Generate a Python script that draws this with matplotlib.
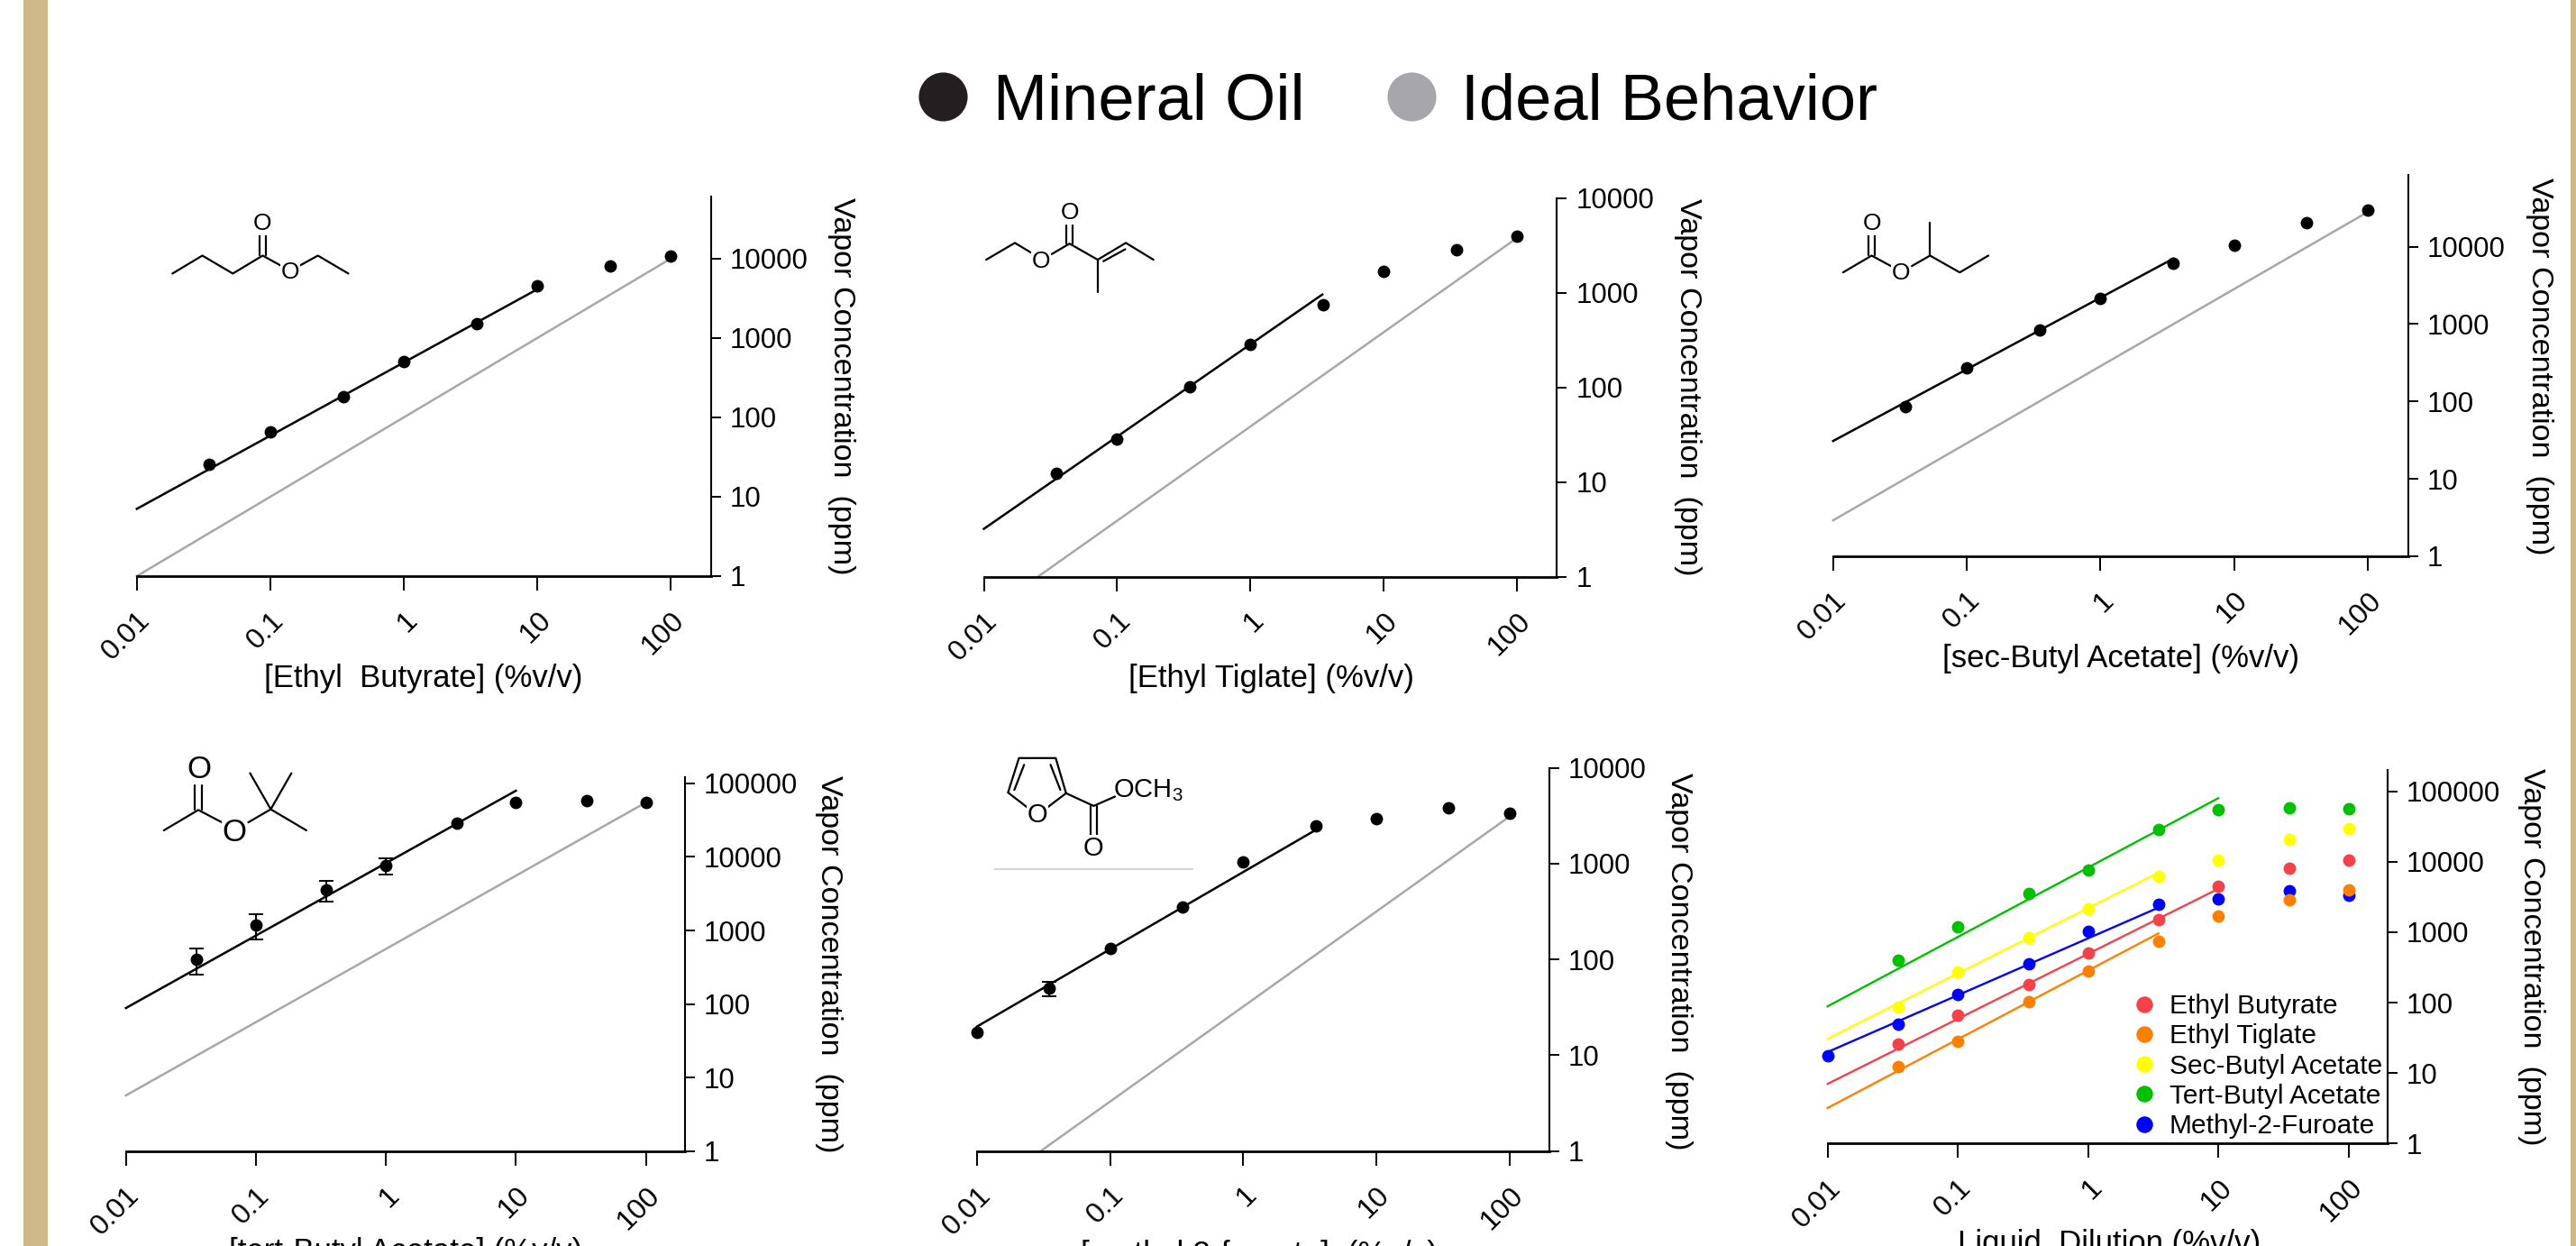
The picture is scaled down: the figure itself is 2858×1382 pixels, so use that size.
import matplotlib
matplotlib.use("Agg")
from matplotlib import pyplot as plt
from matplotlib.lines import Line2D
from matplotlib.patches import Rectangle

plt.rcParams["font.family"] = ["Liberation Sans", "DejaVu Sans"]
plt.rcParams["mathtext.default"] = "regular"

W, H = 2858, 1382

dilution = [0.01, 0.035, 0.1, 0.35, 1, 3.5, 10, 35, 100]
x_ticks = [0.01, 0.1, 1, 10, 100]
x_tick_labels = ["0.01", "0.1", "1", "10", "100"]

# vapor concentration, None where no point was measured
ethyl_butyrate = [None, 25.8, 65.5, 181, 508, 1518, 4486, 7965, 10670]
ethyl_tiglate = [None, 12.4, 28.4, 102, 283, 750, 1683, 2852, 3955]
sec_butyl = [None, 85.6, 272, 837, 2155, 6130, 10570, 20600, 29700]
tert_butyl = [None, 405, 1202, 3573, 7602, 28400, 55000, 58000, 55600]
methyl_furoate = [17.5, 49.9, 130, 352, 1035, 2488, 2965, 3811, 3319]

# error bars (low, high)
tert_low = [None, 252, 759, 2451, 5790, None, None, None, None]
tert_high = [None, 566, 1647, 4693, 9570, None, None, None, None]
furoate_low = [None, 41.1, None, None, None, None, None, None, None]
furoate_high = [None, 58.6, None, None, None, None, None, None, None]

# fit lines: end points
butyrate_fit_x, butyrate_fit_y = [0.01, 10], [7.03, 4111]
tiglate_fit_x, tiglate_fit_y = [0.01, 3.47], [3.2, 958]
sec_fit_x, sec_fit_y = [0.01, 3.5], [30.8, 7000]
tert_fit_x, tert_fit_y = [0.01, 10], [88.6, 79400]
furoate_fit_x, furoate_fit_y = [0.01, 3.5], [19.9, 2240]

# ideal behaviour lines
butyrate_ideal_x, butyrate_ideal_y = [0.01, 100], [1, 10000]
tiglate_ideal_x, tiglate_ideal_y = [0.0255, 100], [1, 3780]
sec_ideal_x, sec_ideal_y = [0.01, 100], [2.9, 28100]
tert_ideal_x, tert_ideal_y = [0.01, 100], [5.75, 55000]
furoate_ideal_x, furoate_ideal_y = [0.0302, 100], [1, 3090]

small_ticks = [1, 10, 100, 1000, 10000]
big_ticks = [1, 10, 100, 1000, 10000, 100000]

BLACK = "#000000"
GRAY = "#a8a8a8"
GOLD = "#cfb988"


def points(values):
    xs = [x for x, v in zip(dilution, values) if v is not None]
    ys = [v for v in values if v is not None]
    return xs, ys


fig = plt.figure(figsize=(W / 100, H / 100), dpi=100)

# pixel overlay for the frame and the molecule sketches
bg = fig.add_axes([0, 0, 1, 1])
bg.set_xlim(0, W)
bg.set_ylim(H, 0)
bg.axis("off")
bg.add_patch(Rectangle((26, 0), 27, H, color=GOLD, lw=0))
bg.add_patch(Rectangle((2852, 0), 6, H, color=GOLD, lw=0))


def make_axes(left, right, y_one, y_top, ymax, yticks, xlabel, xlabel_pos, ylabel_pos):
    ax = fig.add_axes([left / W, 1 - y_one / H, (right - left) / W, (y_one - y_top) / H])
    ax.patch.set_visible(False)
    ax.set_xscale("log")
    ax.set_yscale("log")
    ax.set_xlim(0.01, 200)
    ax.set_ylim(1, ymax)
    ax.spines["left"].set_visible(False)
    ax.spines["top"].set_visible(False)
    ax.spines["right"].set_linewidth(1.5)
    ax.spines["bottom"].set_linewidth(2)
    ax.yaxis.tick_right()
    ax.set_xticks(x_ticks)
    ax.set_xticklabels(x_tick_labels, rotation=45, ha="right", va="top", rotation_mode="anchor", fontsize=23)
    ax.set_yticks(yticks)
    ax.set_yticklabels([str(t) for t in yticks], fontsize=22.5)
    ax.minorticks_off()
    ax.tick_params(axis="x", length=11.5, width=1.4, pad=13)
    ax.tick_params(axis="y", length=8, width=1.4, pad=7)
    ax.set_xlabel(xlabel, fontsize=25)
    ax.xaxis.set_label_coords(xlabel_pos[0], xlabel_pos[1], transform=bg.transData)
    ax.yaxis.set_label_position("right")
    ax.set_ylabel("Vapor Concentration  (ppm)", fontsize=24.6, rotation=270, va="center", ha="center")
    ax.yaxis.set_label_coords(ylabel_pos[0], ylabel_pos[1], transform=bg.transData)
    return ax


def single_panel(ax, values, fit_x, fit_y, ideal_x, ideal_y, low=None, high=None):
    ax.plot(ideal_x, ideal_y, color=GRAY, lw=1.8, clip_on=False, zorder=2)
    ax.plot(fit_x, fit_y, color=BLACK, lw=1.8, clip_on=False, zorder=3)
    if low is not None:
        xs, ys = [], []
        lo, hi = [], []
        for x, v, l, h in zip(dilution, values, low, high):
            if l is not None:
                xs.append(x)
                ys.append(v)
                lo.append(v - l)
                hi.append(h - v)
        ax.errorbar(xs, ys, yerr=[lo, hi], fmt="none", ecolor=BLACK, elinewidth=1.4, capsize=5.5, capthick=1.4, zorder=3)
    xs, ys = points(values)
    ax.plot(xs, ys, "o", color=BLACK, ms=10, mew=0, clip_on=False, zorder=4)


ax1 = make_axes(151.8, 789, 639, 217.6, 61000, small_ticks, "[Ethyl  Butyrate] (%v/v)", (470, 736), (934, 428))
single_panel(ax1, ethyl_butyrate, butyrate_fit_x, butyrate_fit_y, butyrate_ideal_x, butyrate_ideal_y)

ax2 = make_axes(1091.6, 1727.4, 639.6, 219.7, 10000, small_ticks, "[Ethyl Tiglate] (%v/v)", (1410, 736), (1873, 429))
single_panel(ax2, ethyl_tiglate, tiglate_fit_x, tiglate_fit_y, tiglate_ideal_x, tiglate_ideal_y)

ax3 = make_axes(2033.8, 2671.5, 616.8, 194.4, 84000, small_ticks, "[sec-Butyl Acetate] (%v/v)", (2353, 714), (2818, 406))
single_panel(ax3, sec_butyl, sec_fit_x, sec_fit_y, sec_ideal_x, sec_ideal_y)

ax4 = make_axes(139.7, 760, 1277, 862.4, 120000, big_ticks, "[tert-Butyl Acetate] (%v/v)", (450, 1372), (920, 1069))
single_panel(ax4, tert_butyl, tert_fit_x, tert_fit_y, tert_ideal_x, tert_ideal_y, tert_low, tert_high)

ax5 = make_axes(1083.9, 1719, 1276.6, 851.6, 10000, small_ticks, "[methyl 2-furoate]  (%v/v)", (1397, 1375), (1863, 1066))
ax5.xaxis.label.set_fontsize(25.5)
single_panel(ax5, methyl_furoate, furoate_fit_x, furoate_fit_y, furoate_ideal_x, furoate_ideal_y, furoate_low, furoate_high)

ax6 = make_axes(2027.7, 2649, 1268.4, 854, 200000, big_ticks, "Liquid  Dilution (%v/v)", (2340, 1363), (2809, 1061))
overlay = [
    ("Ethyl Butyrate", ethyl_butyrate, butyrate_fit_x, butyrate_fit_y, "#f5424a"),
    ("Ethyl Tiglate", ethyl_tiglate, tiglate_fit_x, tiglate_fit_y, "#ff8000"),
    ("Sec-Butyl Acetate", sec_butyl, sec_fit_x, sec_fit_y, "#ffff00"),
    ("Tert-Butyl Acetate", tert_butyl, tert_fit_x, tert_fit_y, "#00c000"),
    ("Methyl-2-Furoate", methyl_furoate, furoate_fit_x, furoate_fit_y, "#0000ff"),
]
handles = []
for name, values, fit_x, fit_y, color in overlay:
    ax6.plot(fit_x, fit_y, color=color, lw=1.7, clip_on=False, zorder=2)
for name, values, fit_x, fit_y, color in overlay[::-1]:
    xs, ys = points(values)
    ax6.plot(xs, ys, "o", color=color, ms=10, mew=0, clip_on=False, zorder=3)
for name, values, fit_x, fit_y, color in overlay:
    handles.append(Line2D([], [], ls="none", marker="o", color=color, ms=13.3, mew=0, label=name))
ax6.legend(handles=handles, loc="lower left", bbox_to_anchor=(2360, 1263), bbox_transform=bg.transData,
           frameon=False, fontsize=21.5, labelspacing=0.174, handletextpad=0.27, handlelength=1.3,
           borderpad=0, borderaxespad=0)

top_handles = [
    Line2D([], [], ls="none", marker="o", color="#231f20", ms=39, mew=0, label="Mineral Oil"),
    Line2D([], [], ls="none", marker="o", color="#a7a6ab", ms=39, mew=0, label="Ideal Behavior"),
]
fig.legend(handles=top_handles, ncol=2, loc="center left", bbox_to_anchor=(1010 / W, 1 - 114 / H),
           frameon=False, fontsize=52, handletextpad=0.27, columnspacing=1.14, handlelength=1,
           borderpad=0, borderaxespad=0)


# molecule sketches, given in the coordinates they were measured in
def sketch(bonds, atoms, ox, oy, sx, sy, lw=1.6, size=19):
    for bond in bonds:
        bg.plot([ox + p[0] / sx for p in bond], [oy + p[1] / sy for p in bond], color=BLACK, lw=lw, solid_capstyle="round")
    for x, y, label in atoms:
        bg.text(ox + x / sx, oy + y / sy, label, fontsize=size, ha="center", va="center",
                bbox=dict(fc="white", ec="none", pad=0.5) if label == "O" else None)


sketch([[(300, 370), (352, 322), (405, 370), (457, 322), (490, 350)], [(520, 350), (553, 322), (606, 370)],
        [(452, 322), (452, 265)], [(462, 322), (462, 265)]],
       [(457, 237, "O"), (505, 367, "O")], 0, 150, 1.568, 2.412)
sketch([[(226, 333), (276, 288), (305, 315)], [(340, 318), (371, 290), (420, 333), (469, 288), (517, 333)],
        [(366, 290), (366, 240)], [(376, 290), (376, 240)], [(430, 337), (468, 305)], [(420, 333), (420, 420)]],
       [(371, 207, "O"), (322, 337, "O")], 950, 150, 1.568, 2.412)
sketch([[(237, 367), (289, 322), (324, 350)], [(362, 350), (395, 322), (449, 367), (501, 322)],
        [(395, 322), (395, 233)], [(284, 322), (284, 262)], [(294, 322), (294, 262)]],
       [(289, 236, "O"), (342, 370, "O")], 1900, 150, 1.637, 2.412)
sketch([[(285, 326), (345, 265), (386, 302)], [(432, 302), (471, 263), (533, 326)], [(435, 155), (471, 263), (507, 155)],
        [(339, 265), (339, 190)], [(352, 265), (352, 190)]],
       [(346, 143, "O"), (408, 332, "O")], 0, 800, 1.568, 2.694, size=25)
sketch([[(298, 258), (264, 213), (283, 110), (347, 110), (365, 215), (332, 258)], [(292, 130), (275, 205)], [(338, 130), (355, 205)],
        [(365, 215), (413, 253), (450, 225)], [(407, 253), (407, 340)], [(418, 253), (418, 340)]],
       [(315, 280, "O"), (413, 380, "O"), (508, 207, "OCH$_3$")], 950, 800, 1.568, 2.694, size=21)
bg.plot([950 + 241 / 1.568, 950 + 585 / 1.568], [800 + 443 / 2.694] * 2, color="#cccccc", lw=1.2)

fig.savefig("out.png", dpi=100)
